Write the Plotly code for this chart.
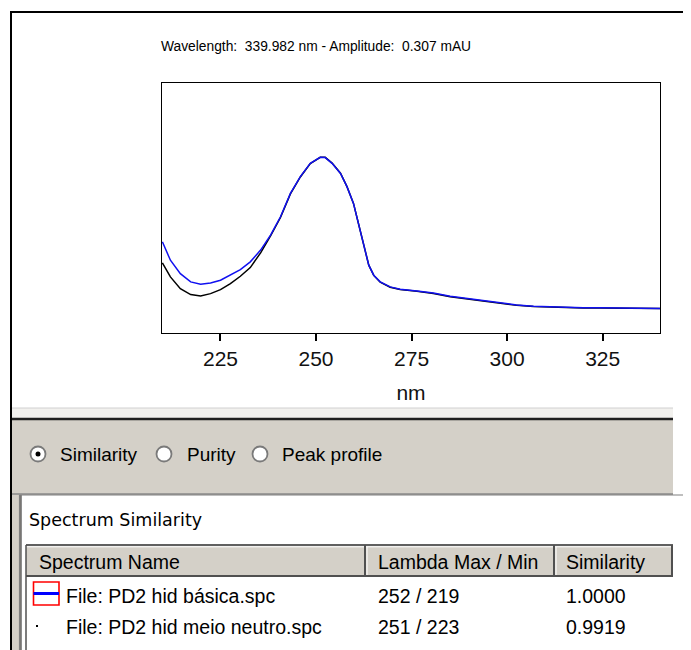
import plotly.graph_objects as go

# page body has an 8px margin: figure placed at (8, 8)
OFF = 8
FW, FH = 691 - OFF, 650 - OFF

# ---------------- data ----------------
wavelength_nm = [209.8, 211.9, 214.5, 217.2, 219.8, 222.4, 225.0, 227.6, 230.2, 232.8,
                 235.5, 238.1, 240.7, 243.3, 245.9, 248.5, 251.1, 252.4, 254.2, 256.4,
                 258.1, 259.8, 261.1, 262.5, 263.8, 265.1, 266.8, 269.4, 272.0, 276.4,
                 280.7, 285.1, 289.5, 293.8, 298.2, 302.5, 306.9, 311.2, 315.6, 319.9,
                 324.3, 328.7, 333.0, 340.0]
amp_basica = [1.148, 0.917, 0.748, 0.644, 0.615, 0.631, 0.665, 0.728, 0.799, 0.896,
              1.044, 1.233, 1.464, 1.758, 1.969, 2.137, 2.212, 2.209, 2.137, 2.010,
              1.843, 1.632, 1.379, 1.085, 0.854, 0.728, 0.644, 0.581, 0.552, 0.530,
              0.505, 0.463, 0.433, 0.404, 0.379, 0.353, 0.337, 0.328, 0.324, 0.319,
              0.319, 0.316, 0.316, 0.307]
amp_neutro = [0.883, 0.707, 0.559, 0.484, 0.467, 0.496, 0.547, 0.622, 0.715, 0.824,
              1.010, 1.222, 1.455, 1.752, 1.965, 2.135, 2.212, 2.212, 2.140, 2.012,
              1.843, 1.632, 1.379, 1.085, 0.854, 0.725, 0.640, 0.576, 0.547, 0.525,
              0.498, 0.457, 0.428, 0.398, 0.373, 0.348, 0.333, 0.325, 0.318, 0.316,
              0.316, 0.314, 0.313, 0.307]
x_ticks = [225, 250, 275, 300, 325]

title_text = "Wavelength:\u00a0 339.982 nm - Amplitude:\u00a0 0.307 mAU"
x_title = "nm"
radio_labels = ["Similarity", "Purity", "Peak profile"]
group_label = "Spectrum Similarity"
header_labels = ["Spectrum Name", "Lambda Max / Min", "Similarity"]
spectrum_names = ["File: PD2 hid básica.spc", "File: PD2 hid meio neutro.spc"]
lambda_max_min = ["252 / 219", "251 / 223"]
similarity = ["1.0000", "0.9919"]


def px(x):
    return (x - OFF) / FW


def py(y):
    return 1 - (y - OFF) / FH


UI_FONT = "Liberation Sans, Arial, sans-serif"
PANEL = "#D4D0C8"

fig = go.Figure()
fig.add_trace(go.Scatter(x=wavelength_nm, y=amp_neutro, mode="lines",
                         line=dict(color="#000000", width=1.5), showlegend=False,
                         hoverinfo="skip"))
fig.add_trace(go.Scatter(x=wavelength_nm, y=amp_basica, mode="lines",
                         line=dict(color="#1010F0", width=1.5), showlegend=False,
                         hoverinfo="skip"))

shapes = []


def line(x0, y0, x1, y1, color, width=1):
    shapes.append(dict(type="line", xref="paper", yref="paper",
                       x0=px(x0), y0=py(y0), x1=px(x1), y1=py(y1),
                       line=dict(color=color, width=width)))


def rect(x0, y0, x1, y1, fill, color=None, width=0):
    shapes.append(dict(type="rect", xref="paper", yref="paper",
                       x0=px(x0), y0=py(y0), x1=px(x1), y1=py(y1),
                       fillcolor=fill,
                       line=dict(color=color or fill, width=width)))


# outer frame
line(11, 650, 11, 12, "#000000", 2)
line(10, 12, 691, 12, "#000000", 2)

# separator + gray panel
rect(12, 408, 673, 418, "#F2F1EE")
line(12, 408, 673, 408, "#D0D0D0", 1)
rect(12, 419, 673, 650, PANEL)
line(12, 419, 673, 419, "#202020", 2.5)
line(12, 494, 673, 494, "#8A8A8A", 1.5)

# white list box
rect(21, 495, 691, 650, "#FFFFFF")
line(19.5, 495, 19.5, 650, "#808080", 1.2)
line(21, 495, 21, 650, "#404040", 1.2)
line(19.5, 495, 691, 495, "#808080", 1.2)

# radio buttons
radio_cx = [38, 164, 260]
radio_tx = [60, 187, 282]
RY = 454
for i, (cx, tx) in enumerate(zip(radio_cx, radio_tx)):
    shapes.append(dict(type="circle", xref="paper", yref="paper",
                       x0=px(cx - 7.5), y0=py(RY + 7.5), x1=px(cx + 7.5), y1=py(RY - 7.5),
                       fillcolor="#FFFFFF", line=dict(color="#7A7A7A", width=1.8)))
    if i == 0:
        shapes.append(dict(type="circle", xref="paper", yref="paper",
                           x0=px(cx - 2.5), y0=py(RY + 2.5), x1=px(cx + 2.5), y1=py(RY - 2.5),
                           fillcolor="#000000", line=dict(color="#000000", width=0)))

# table header
HT, HB = 545, 576
rect(26, HT, 673, HB, PANEL)
line(26, HT, 673, HT, "#606060", 2)
line(26, HT + 1.8, 673, HT + 1.8, "#FFFFFF", 1)
line(26, HB, 673, HB, "#505050", 2)
line(26, HT, 26, 650, "#505050", 1.5)
for dx in [365, 554, 672]:
    line(dx, HT, dx, HB, "#505050", 2)
    line(dx + 2, HT + 2, dx + 2, HB - 1, "#FFFFFF", 1)

# icon for row 1
rect(33.5, 582, 59, 605, "#FFFFFF", "#FF0000", 1.6)
line(33.5, 593.5, 59, 593.5, "#0000FF", 3)
# dot for row 2
rect(36, 625, 38, 627, "#000000")

fig.update_layout(shapes=shapes)

ann = []


def text(x, y, s, size=19.5, family=UI_FONT, anchor="left"):
    ann.append(dict(xref="paper", yref="paper", x=px(x), y=py(y), text=s,
                    showarrow=False, xanchor=anchor, yanchor="middle",
                    font=dict(family=family, size=size, color="#000000")))


text(159, 46, title_text, size=13.8)
for lab, tx in zip(radio_labels, radio_tx):
    text(tx - 2, RY, lab, size=19)
text(27, 520, group_label, size=17.5, family="DejaVu Sans, sans-serif")

col_x = [64, 376, 564]
text(37, 562, header_labels[0])
text(col_x[1], 562, header_labels[1])
text(col_x[2], 562, header_labels[2])
row_y = [596, 627]
for r in range(2):
    text(col_x[0], row_y[r], spectrum_names[r])
    text(col_x[1], row_y[r], lambda_max_min[r])
    text(col_x[2], row_y[r], similarity[r])

fig.update_layout(annotations=ann)

fig.update_layout(
    width=FW, height=FH,
    margin=dict(l=0, r=0, t=0, b=0),
    paper_bgcolor="#FFFFFF",
    plot_bgcolor="#FFFFFF",
    showlegend=False,
    xaxis=dict(domain=[px(162), px(660)], range=[209.7, 340.0],
               tickmode="array", tickvals=x_ticks,
               ticks="outside", ticklen=7, tickwidth=1.5, tickcolor="#000000",
               showline=True, linecolor="#000000", linewidth=1.2, mirror=True,
               showgrid=False, zeroline=False,
               tickfont=dict(family=UI_FONT, size=21, color="#111111"),
               title=dict(text=x_title, standoff=16,
                          font=dict(family=UI_FONT, size=21, color="#111111")),
               fixedrange=True),
    yaxis=dict(domain=[py(333), py(82.5)], range=[0, 3.155],
               showticklabels=False, ticks="",
               showline=True, linecolor="#000000", linewidth=1.2, mirror=True,
               showgrid=False, zeroline=False, fixedrange=True),
)

fig.write_html("out.html")
